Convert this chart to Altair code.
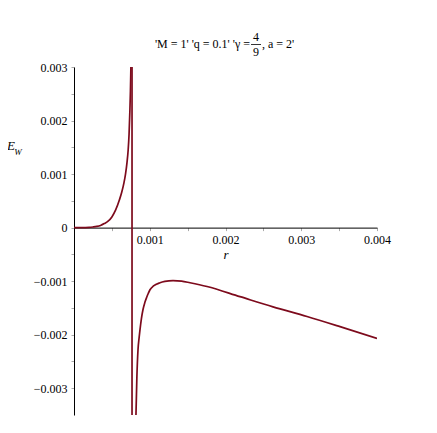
import altair as alt
import pandas as pd

# ---- data (in units of 1e-3) ----
left_r = [0.0, 0.10, 0.20, 0.25, 0.30, 0.35, 0.40, 0.45, 0.50, 0.55, 0.60, 0.63, 0.66, 0.68, 0.70,
          0.715, 0.727, 0.737, 0.745, 0.752, 0.758]
left_E = [0.0, 0.0, 0.005, 0.012, 0.022, 0.040, 0.075, 0.12, 0.20, 0.33, 0.52, 0.66, 0.84, 1.00, 1.22,
          1.45, 1.75, 2.15, 2.55, 3.05, 3.7]
asym_r = [0.766]
right_r = [0.808, 0.818, 0.83, 0.845, 0.86, 0.871, 0.89, 0.911, 0.935, 0.96, 0.98, 1.003, 1.05, 1.135,
           1.2, 1.307, 1.42, 1.531, 1.756, 2.191, 2.627, 3.076, 3.512, 4.0]
right_E = [-4.5, -3.50, -2.80, -2.28, -2.05, -1.91, -1.70, -1.53, -1.40, -1.30, -1.23, -1.16, -1.09, -1.03,
           -1.005, -0.99, -1.00, -1.03, -1.10, -1.29, -1.48, -1.66, -1.85, -2.07]

x_ticks = [0.0005 * i for i in range(1, 9)]
y_ticks = [0.0005 * i for i in range(-6, 7)]
title_left = "'M = 1' 'q = 0.1' 'γ = "
title_num = "4"
title_den = "9"
title_right = ", a = 2'"

COLOR = "#7d0a1c"
FONT = "Liberation Serif, Times New Roman, Times, serif"

rows = []
for b, rs, es in [("left", left_r, left_E), ("right", right_r, right_E)]:
    for i, (r, e) in enumerate(zip(rs, es)):
        rows.append({"branch": b, "order": i, "r": r * 1e-3, "E": e * 1e-3})
df = pd.DataFrame(rows)
df_asym = pd.DataFrame({"r": [v * 1e-3 for v in asym_r]})

W, H = 303, 348
xdom = [0, 0.004]
ydom = [-0.0035, 0.003]
x_off = -(H * (0 - ydom[0]) / (ydom[1] - ydom[0]))

major = "abs(datum.value*1000 - round(datum.value*1000)) < 1e-6"
xs = alt.Scale(domain=xdom, nice=False, zero=False)
ys = alt.Scale(domain=ydom, nice=False, zero=False)

x_axis = alt.Axis(
    orient="bottom", offset=x_off, values=x_ticks, grid=False,
    labelExpr=f"{major} ? format(datum.value, '.3f') : ''",
    title="r", titleFontStyle="italic", titleFont=FONT, titleFontWeight="normal",
    titleFontSize=13, titlePadding=3, labelPadding=4, labelFlush=False, labelOverlap=False,
)
y_axis = alt.Axis(
    orient="left", values=y_ticks, grid=False, title="",
    labelExpr=f"datum.value == 0 ? '0' : ({major} ? format(datum.value, '.3f') : '')",
    labelPadding=4, labelFlush=False, labelOverlap=False,
)

curve = alt.Chart(df).mark_line(clip=True, color=COLOR, strokeWidth=1.7, interpolate="monotone").encode(
    x=alt.X("r:Q", scale=xs, axis=x_axis),
    y=alt.Y("E:Q", scale=ys, axis=y_axis),
    detail="branch:N",
    order="order:Q",
)

asym = alt.Chart(df_asym).mark_rule(color=COLOR, strokeWidth=1.7).encode(x=alt.X("r:Q", scale=xs))

def txt(s, x, y, size=12, style="normal", align="center"):
    return alt.Chart(pd.DataFrame({"t": [s]})).mark_text(
        font=FONT, fontSize=size, fontStyle=style, align=align, baseline="middle", color="black"
    ).encode(x=alt.value(x), y=alt.value(y), text="t:N")

e_lab = txt("E", -63, 79, size=13, style="italic")
w_lab = txt("W", -56, 85, size=9, style="italic")
t1 = txt(title_left, 176, -23, align="right")
t2 = txt(title_num, 182, -30)
t3 = txt(title_den, 182, -15)
t4 = txt(title_right, 188, -23, align="left")
bar = alt.Chart(pd.DataFrame({"a": [0]})).mark_rule(color="black", strokeWidth=0.8).encode(
    x=alt.value(177), x2=alt.value(187), y=alt.value(-22.5)
)

chart = alt.layer(curve, asym, e_lab, w_lab, t1, t2, t3, t4, bar).properties(
    width=W, height=H,
    padding={"left": 66, "top": 59, "right": 52, "bottom": 10},
    autosize=alt.AutoSizeParams(type="none"),
).configure_view(stroke=None).configure_axis(
    domainColor="black", domainWidth=1, tickColor="#aaaaaa", tickSize=3,
    labelFont=FONT, labelFontSize=12, labelColor="black",
)

chart.save("out.html", embed_options={"renderer": "svg", "actions": False})
